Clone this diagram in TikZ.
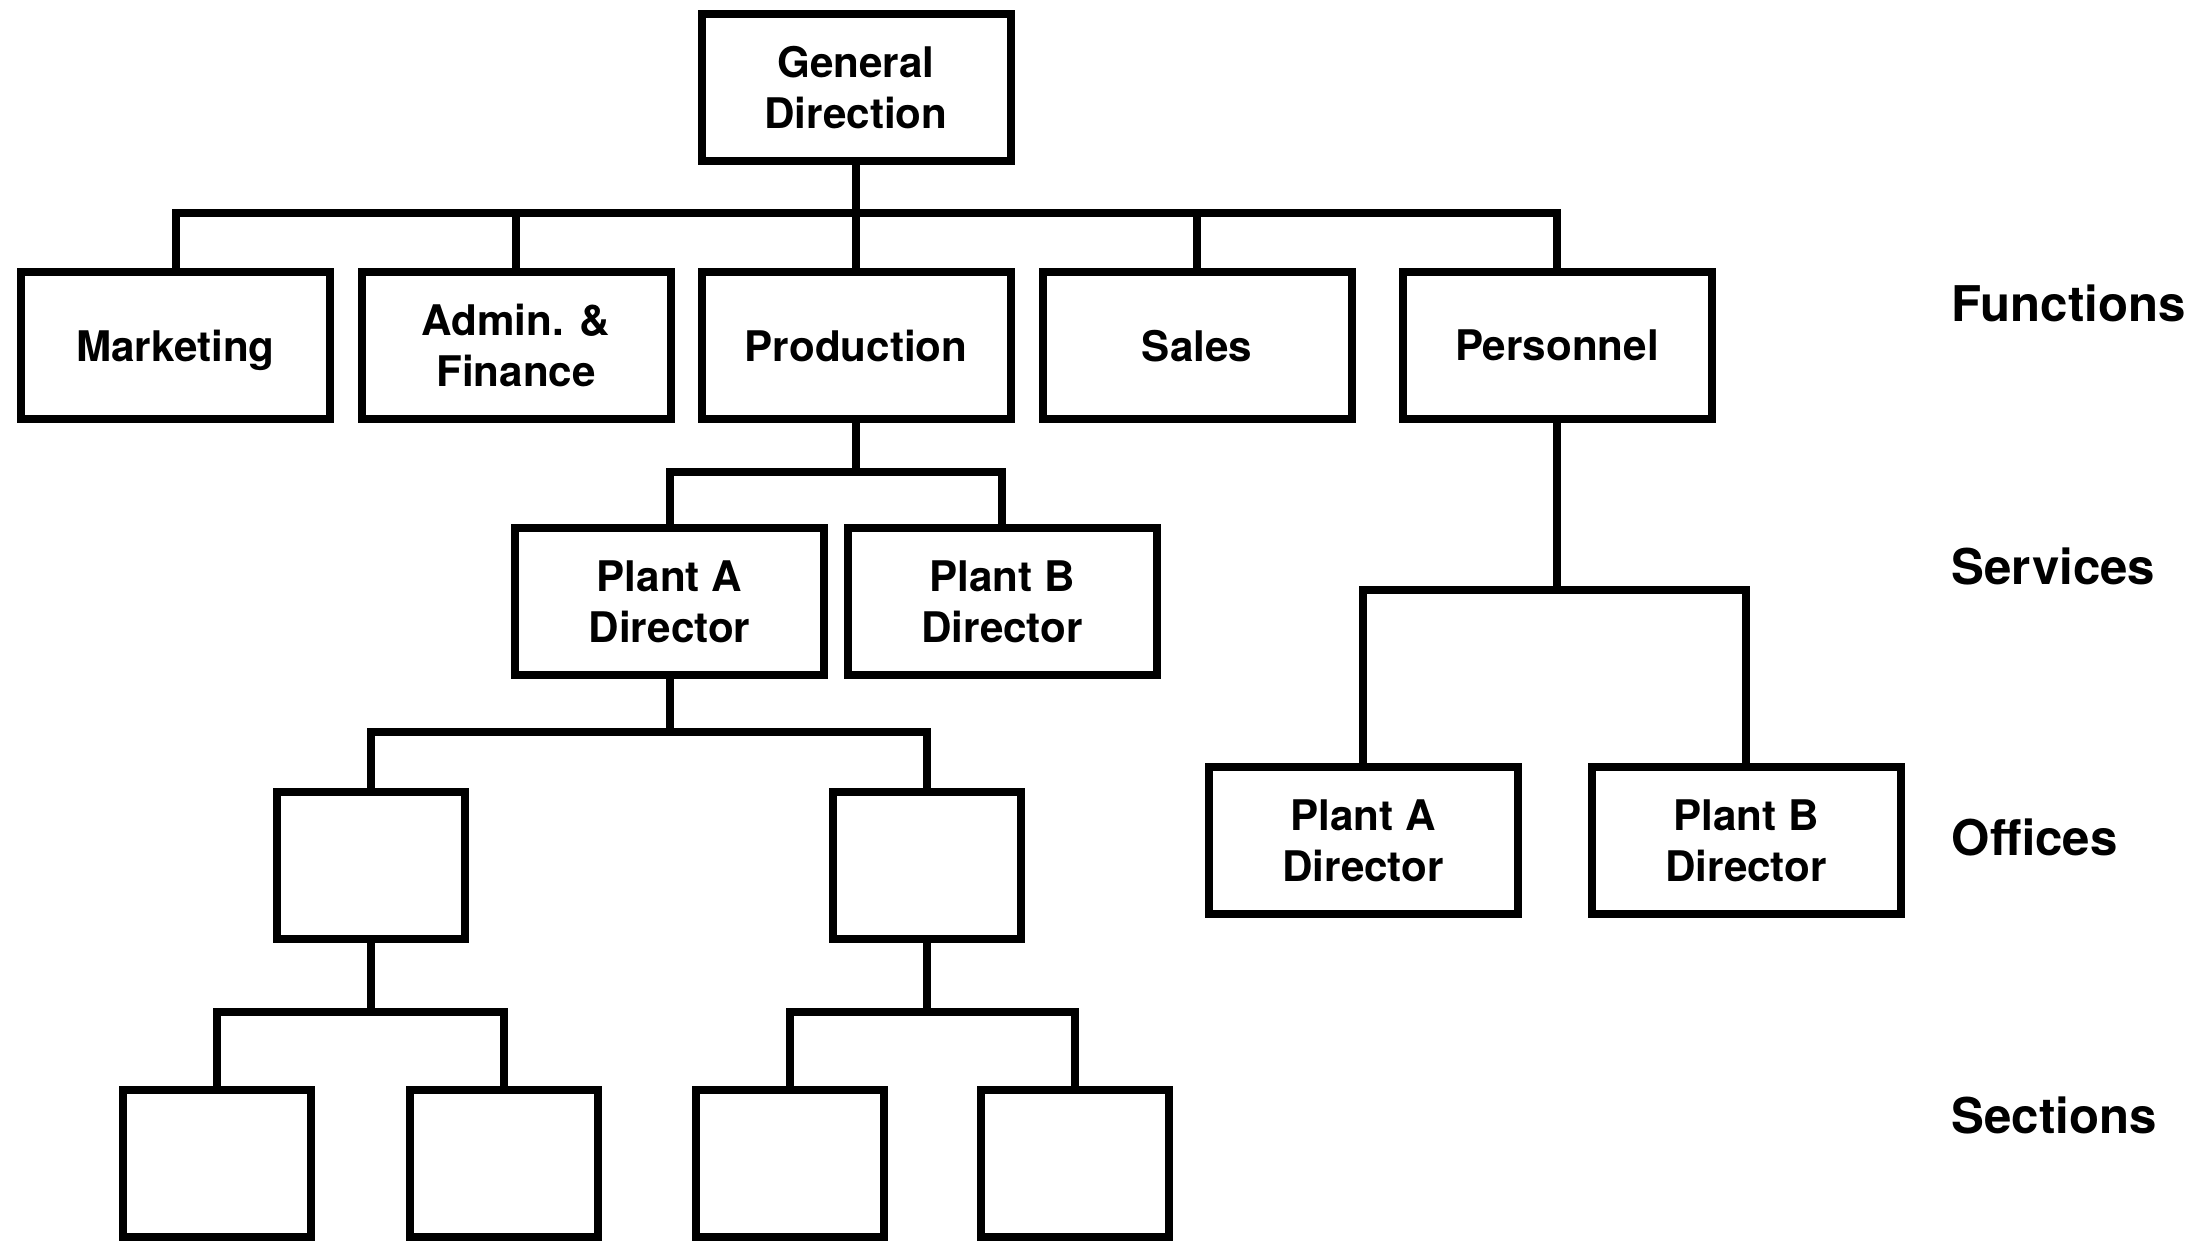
\documentclass[tikz,border=0pt]{standalone}
\usepackage{fontspec}
\setmainfont{TeX Gyre Heros}
\begin{document}
\begin{tikzpicture}[x=0.1mm, y=-0.1mm,
  unit/.style={draw, line width=0.8mm, minimum width=30.9mm, minimum height=14.7mm,
    inner sep=0pt, text depth=0pt, align=center, font=\bfseries\fontsize{12}{14.4}\selectfont},
  blank/.style={draw, line width=0.8mm, minimum width=18.8mm, minimum height=14.7mm, inner sep=0pt},
  conn/.style={line width=0.8mm, line join=miter},
  level/.style={anchor=base west, inner sep=0pt, font=\bfseries\fontsize{14}{16.8}\selectfont}]

\useasboundingbox[fill=white] (0,0) rectangle (2209,1241);

% top of the hierarchy
\node[unit] (gd) at (856,87.5) {General\\Direction};

% functions
\node[unit] (mk) at (175.5,345.5) {Marketing};
\node[unit] (af) at (516,345.5) {Admin. \&\\Finance};
\node[unit] (pr) at (856,345.5) {Production};
\node[unit] (sa) at (1197,345.5) {Sales};
\node[unit] (pe) at (1557,345.5) {Personnel};

% services under production
\node[unit] (sva) at (669.5,601.5) {Plant A\\Director};
\node[unit] (svb) at (1002,601.5) {Plant B\\Director};

% offices under plant A
\node[blank] (ofa) at (370.5,865.5) {};
\node[blank] (ofb) at (927,865.5) {};

% sections
\node[blank] (s1) at (217,1163.5) {};
\node[blank] (s2) at (503.5,1163.5) {};
\node[blank] (s3) at (789.5,1163.5) {};
\node[blank] (s4) at (1075,1163.5) {};

% offices under personnel
\node[unit] (pa) at (1363,840.5) {Plant A\\Director};
\node[unit] (pb) at (1746,840.5) {Plant B\\Director};

% level labels
\node[level] (lf) at (1951,322) {Functions};
\node[level] (ls) at (1951,585) {Services};
\node[level] (lo) at (1951,855) {Offices};
\node[level] (lx) at (1951,1133) {Sections};

% bus heights
\coordinate (b1) at (0,213.5);
\coordinate (b2) at (0,472);
\coordinate (b3) at (0,732.5);
\coordinate (b4) at (0,1011.5);
\coordinate (b5) at (0,590);

% general direction -> functions
\draw[conn] (gd.south) -- (gd.south |- b1);
\draw[conn] (mk.north) |- (pe.north |- b1) -- (pe.north);
\draw[conn] (af.north) -- (af.north |- b1);
\draw[conn] (pr.north) -- (pr.north |- b1);
\draw[conn] (sa.north) -- (sa.north |- b1);

% production -> services
\draw[conn] (pr.south) -- (pr.south |- b2);
\draw[conn] (sva.north) |- (svb.north |- b2) -- (svb.north);

% plant A -> offices
\draw[conn] (sva.south) -- (sva.south |- b3);
\draw[conn] (ofa.north) |- (ofb.north |- b3) -- (ofb.north);

% offices -> sections
\draw[conn] (ofa.south) -- (ofa.south |- b4);
\draw[conn] (s1.north) |- (s2.north |- b4) -- (s2.north);
\draw[conn] (ofb.south) -- (ofb.south |- b4);
\draw[conn] (s3.north) |- (s4.north |- b4) -- (s4.north);

% personnel -> offices
\draw[conn] (pe.south) -- (pe.south |- b5);
\draw[conn] (pa.north) |- (pb.north |- b5) -- (pb.north);

\end{tikzpicture}
\end{document}
